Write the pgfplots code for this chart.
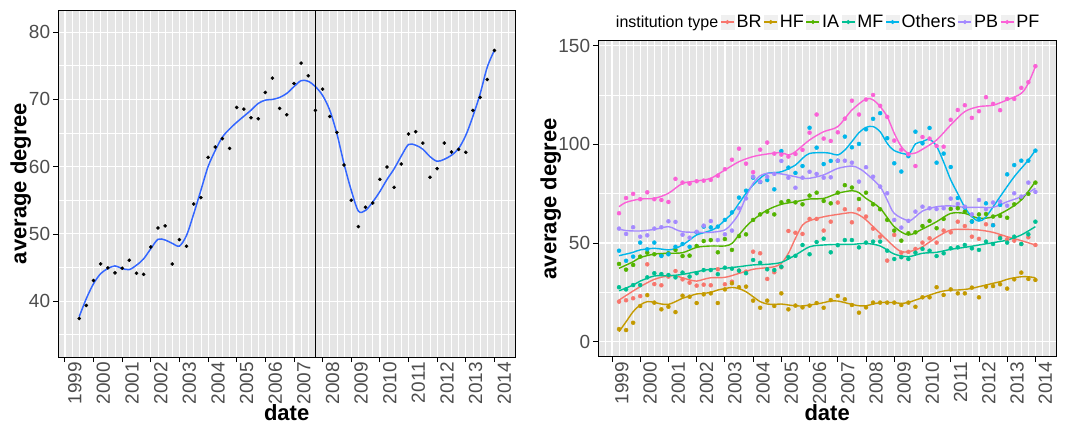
\documentclass[border=0pt]{standalone}
\usepackage{fontspec}
\setmainfont{Liberation Sans}
\usepackage{pgfplots}
\usepackage{pgfplotstable}
\pgfplotsset{compat=1.18}
\definecolor{bgc}{HTML}{E5E5E5}
\definecolor{tickc}{HTML}{4D4D4D}
\definecolor{fitblue}{HTML}{3366FF}
\definecolor{brc}{HTML}{F8766D}
\definecolor{hfc}{HTML}{C49A00}
\definecolor{iac}{HTML}{53B400}
\definecolor{mfc}{HTML}{00C094}
\definecolor{othc}{HTML}{00B6EB}
\definecolor{pbc}{HTML}{A58AFF}
\definecolor{pfc}{HTML}{FB61D7}

\pgfplotstableread{
date val
1999.5 37.43
1999.75 39.36
2000 43.07
2000.25 45.54
2000.5 44.95
2000.75 44.21
2001 44.9
2001.25 46.09
2001.5 44.16
2001.75 44.0
2002 48.07
2002.25 50.89
2002.5 51.19
2002.75 45.54
2003 49.16
2003.25 48.17
2003.5 54.46
2003.75 55.4
2004 61.39
2004.25 62.92
2004.5 64.16
2004.75 62.72
2005 68.81
2005.25 68.56
2005.5 67.28
2005.75 67.13
2006 71.04
2006.25 73.17
2006.5 68.66
2006.75 67.72
2007 72.38
2007.25 75.4
2007.5 73.51
2007.75 68.37
2008 71.53
2008.25 67.48
2008.5 65.1
2008.75 60.25
2009 55.0
2009.25 51.09
2009.5 53.96
2009.75 54.6
2010 58.12
2010.25 59.95
2010.5 56.93
2010.75 60.4
2011 64.85
2011.25 65.2
2011.5 63.51
2011.75 58.42
2012 59.7
2012.25 63.51
2012.5 62.18
2012.75 62.57
2013 62.13
2013.25 68.37
2013.5 70.3
2013.75 72.97
2014 77.28
}\leftpts

\pgfplotstableread{
date val
1999.5 37.7
1999.75 40.4
2000 42.6
2000.25 44.1
2000.5 44.85
2000.75 45.25
2001 44.85
2001.25 44.7
2001.5 45.35
2001.75 46.3
2002 47.8
2002.25 49.2
2002.5 49.1
2002.75 48.6
2003 48.2
2003.25 49.8
2003.5 53.0
2003.75 56.5
2004 60.0
2004.25 62.4
2004.5 64.4
2004.75 65.6
2005 66.6
2005.25 67.5
2005.5 68.4
2005.75 69.4
2006 69.9
2006.25 70.0
2006.5 70.3
2006.75 70.9
2007 71.9
2007.25 72.8
2007.5 72.7
2007.75 71.9
2008 70.6
2008.25 68.4
2008.5 64.9
2008.75 60.4
2009 56.5
2009.25 53.4
2009.5 53.5
2009.75 54.75
2010 56.3
2010.25 58.1
2010.5 59.7
2010.75 61.6
2011 63.3
2011.25 63.2
2011.5 62.6
2011.75 61.5
2012 60.8
2012.25 61.1
2012.5 61.7
2012.75 62.7
2013 64.65
2013.25 67.5
2013.5 70.8
2013.75 74.8
2014 77.3
}\leftfit

\pgfplotstableread{
date BR HF IA MF Others PB PF
1999.25 20.3 6.4 39.4 27.6 46.1 57.3 65.1
1999.5 21.0 5.9 36.5 26.5 41.0 54.6 72.8
1999.75 22.0 9.6 38.9 28.7 43.1 58.0 74.9
2000.0 23.1 18.1 43.1 28.7 50.2 53.2 72.2
2000.25 39.2 23.6 45.1 32.6 46.8 53.9 75.7
2000.5 29.2 19.8 44.3 34.7 50.2 57.3 72.2
2000.75 28.6 16.4 43.9 34.3 43.4 58.0 71.8
2001.0 33.0 17.7 44.8 33.8 44.3 61.0 70.8
2001.25 35.8 15.0 46.5 32.6 48.1 60.7 82.5
2001.5 31.6 23.3 43.4 35.0 49.5 54.2 80.6
2001.75 29.9 22.8 43.6 33.0 48.1 52.7 80.1
2002.0 28.4 19.6 48.5 34.7 55.4 55.7 81.3
2002.25 28.9 24.0 51.0 36.3 58.3 58.8 81.6
2002.5 28.6 24.5 51.5 36.3 57.9 61.1 82.0
2002.75 36.7 19.6 45.3 34.2 58.3 51.5 84.1
2003.0 29.1 26.5 52.0 37.5 61.7 54.4 87.4
2003.25 30.4 29.6 46.5 37.0 65.5 56.3 92.2
2003.5 36.0 27.6 53.5 36.0 73.0 67.6 97.8
2003.75 35.5 27.9 54.4 34.7 76.5 72.6 90.2
2004.0 45.6 20.8 61.7 41.4 83.1 83.6 85.9
2004.25 44.8 17.2 64.5 40.0 80.9 81.1 97.3
2004.5 31.8 20.8 65.9 36.7 81.9 83.6 100.9
2004.75 35.2 18.1 64.5 36.3 77.2 85.0 95.3
2005.0 37.7 24.5 70.6 38.0 96.6 91.6 94.8
2005.25 56.1 16.4 71.3 42.8 88.2 83.1 93.8
2005.5 55.2 18.3 70.6 43.5 85.5 78.0 95.1
2005.75 54.6 17.4 69.6 49.0 89.0 83.1 97.2
2006.0 62.2 18.3 74.0 44.3 108.4 86.1 105.9
2006.25 62.2 19.6 75.5 50.5 98.3 85.0 115.1
2006.5 56.3 17.2 71.3 52.2 90.0 83.1 102.9
2006.75 60.8 21.1 70.1 45.3 91.6 83.3 101.7
2007.0 70.5 23.2 75.5 48.9 91.7 91.7 106.1
2007.25 67.1 21.5 79.3 51.5 103.9 91.7 113.0
2007.5 60.5 18.6 78.1 51.5 98.5 90.7 122.1
2007.75 67.1 14.7 72.3 47.8 100.2 81.1 115.1
2008.0 63.4 17.4 75.5 50.2 107.6 88.4 122.7
2008.25 57.3 19.8 69.6 50.7 112.9 83.6 125.0
2008.5 53.2 19.8 67.1 50.7 115.8 78.6 119.5
2008.75 41.1 19.8 61.7 46.1 103.1 75.2 113.9
2009.0 54.1 19.8 56.3 41.9 90.4 61.7 101.9
2009.25 45.1 18.6 51.2 42.8 86.2 57.8 97.3
2009.5 45.5 19.8 54.9 41.9 94.0 61.2 95.0
2009.75 47.0 17.7 55.4 45.1 106.4 65.9 89.0
2010.0 50.2 22.5 58.6 47.0 100.5 68.4 103.7
2010.25 52.4 22.5 61.2 46.1 108.3 67.6 102.9
2010.5 50.2 27.6 57.5 43.4 90.7 67.2 99.2
2010.75 56.3 23.7 62.2 44.8 95.3 67.6 98.8
2011.0 55.4 26.5 67.3 47.3 88.5 72.5 112.4
2011.25 60.8 24.5 67.6 47.8 72.8 69.8 117.4
2011.5 58.6 24.5 65.9 49.0 67.9 68.4 119.8
2011.75 53.2 27.4 61.0 47.3 60.8 64.5 113.4
2012.0 52.1 22.5 64.5 46.5 62.3 71.8 116.8
2012.25 59.5 27.9 64.7 50.7 70.1 67.1 123.9
2012.5 59.1 28.2 63.4 49.5 59.0 70.5 120.5
2012.75 53.2 29.1 63.7 52.4 69.3 71.0 117.3
2013.0 51.9 26.9 62.8 50.2 84.8 68.9 123.0
2013.25 51.2 31.6 69.6 53.2 89.5 75.2 123.0
2013.5 49.5 35.0 72.7 49.5 91.7 73.5 128.6
2013.75 52.9 31.8 74.9 54.4 91.7 80.6 131.5
2014.0 49.0 31.3 80.6 60.8 96.8 75.9 139.6
}\typedata

\pgfplotsset{
  ggbase/.style={
    scale only axis,
    axis background/.style={fill=bgc},
    axis line style={black, line width=0.8pt},
    tick align=outside,
    tick pos=left,
    major tick length=5pt,
    minor tick length=0pt,
    every tick/.style={black, line width=0.8pt},
    grid=both,
    major grid style={white, line width=1.1pt},
    minor grid style={white, line width=0.7pt},
    xtick={1999,2000,2001,2002,2003,2004,2005,2006,2007,2008,2009,2010,2011,2012,2013,2014},
    xticklabels={1999,2000,2001,2002,2003,2004,2005,2006,2007,2008,2009,2010,2011,2012,2013,2014},
    minor xtick={1998.75,1999,...,2014.5},
    tick label style={font=\fontsize{19}{19}\selectfont},
    xticklabel style={rotate=90, anchor=north east, inner sep=0pt, yshift=-3pt, text=tickc, font=\fontsize{19}{19}\selectfont},
    yticklabel style={anchor=east, inner sep=0pt, xshift=-3pt, text=tickc, font=\fontsize{19}{19}\selectfont},
    /pgf/number format/assume math mode=true,
    label style={font=\bfseries\fontsize{22}{22}\selectfont},
    xlabel={date},
    ylabel={average degree},
  }
}

\begin{document}
\begin{tikzpicture}
\useasboundingbox (0pt,0pt) rectangle (1067pt,429pt);

\begin{axis}[ggbase,
  at={(58.3pt,72pt)}, anchor=south west,
  width=456.7pt, height=347pt,
  xmin=1998.77, xmax=2014.72,
  ymin=31.7, ymax=83.3,
  ytick={40,50,60,70,80},
  minor ytick={35,45,55,65,75},
  xlabel style={at={(axis description cs:0.5,-0.161)}, anchor=center},
  ylabel style={at={(axis description cs:-0.0823,0.5)}, anchor=center},
]
\addplot[only marks, mark=*, mark size=1.6pt, black] table[x=date,y=val]{\leftpts};
\addplot[fitblue, line width=1.5pt, smooth] table[x=date,y=val]{\leftfit};
\addplot[black, line width=0.8pt] coordinates {(2007.74,31.7) (2007.74,83.3)};
\end{axis}

\begin{axis}[ggbase,
  at={(598.3pt,72.3pt)}, anchor=south west,
  width=457.7pt, height=316pt,
  xmin=1998.516, xmax=2014.73,
  ymin=-7.6, ymax=152.5,
  ytick={0,50,100,150},
  minor ytick={25,75,125},
  xlabel style={at={(axis description cs:0.5,-0.178)}, anchor=center},
  ylabel style={at={(axis description cs:-0.1038,0.5)}, anchor=center},
  legend columns=8,
  legend image code/.code={
    \fill[black!6] (0pt,-7pt) rectangle (13pt,7pt);
    \draw[#1, line width=1.3pt] (0pt,0pt) -- (13pt,0pt);
    \fill[#1] (6.5pt,0pt) circle (1.9pt);
  },
  legend style={draw=none, fill=none, at={(0.5,1.059)}, anchor=center,
    font=\fontsize{18}{18}\selectfont,
    /tikz/column sep=1pt,
    nodes={inner xsep=1pt, inner ysep=1pt}},
]
\addplot[only marks, mark=*, mark size=2pt, brc, forget plot] table[x=date,y=BR]{\typedata};
\addplot[only marks, mark=*, mark size=2pt, hfc, forget plot] table[x=date,y=HF]{\typedata};
\addplot[only marks, mark=*, mark size=2pt, iac, forget plot] table[x=date,y=IA]{\typedata};
\addplot[only marks, mark=*, mark size=2pt, mfc, forget plot] table[x=date,y=MF]{\typedata};
\addplot[only marks, mark=*, mark size=2pt, othc, forget plot] table[x=date,y=Others]{\typedata};
\addplot[only marks, mark=*, mark size=2pt, pbc, forget plot] table[x=date,y=PB]{\typedata};
\addplot[only marks, mark=*, mark size=2pt, pfc, forget plot] table[x=date,y=PF]{\typedata};

\addplot[brc, line width=1.4pt, smooth, forget plot] coordinates {(1999.25,21.1)(1999.75,25.7)(2000,27.9)(2000.5,31.6)(2001,33.4)(2001.25,33.3)(2001.5,32.4)(2001.75,31.3)(2002,30.7)(2002.25,31.6)(2002.5,32.4)(2003,32.6)(2003.5,34.6)(2004,36.7)(2004.5,37.5)(2004.75,38)(2005,39.7)(2005.25,44.8)(2005.5,52.4)(2005.75,59.1)(2006,61.3)(2006.5,63.3)(2007,64.5)(2007.5,65.4)(2007.75,64.2)(2008,61.7)(2008.5,54.9)(2009,48.1)(2009.25,45.6)(2009.5,45.6)(2009.75,46.5)(2010,48.1)(2010.5,52.9)(2011,56.6)(2011.5,56.9)(2012,56.6)(2012.5,55.4)(2013,53.2)(2013.5,51.2)(2014,49)};
\addplot[hfc, line width=1.4pt, smooth, forget plot] coordinates {(1999.25,5.1)(1999.5,10.1)(1999.75,15.2)(2000,18.6)(2000.25,20.3)(2000.5,19.9)(2000.75,19.1)(2001,18.9)(2001.25,20.3)(2001.5,22)(2001.75,23.1)(2002,24.2)(2002.25,24.5)(2002.5,25)(2002.75,26.2)(2003,26.9)(2003.25,27.5)(2003.5,26.9)(2003.75,25.3)(2004,22.8)(2004.25,20.3)(2004.5,19.1)(2004.75,18.9)(2005,19.1)(2005.25,18.6)(2005.5,18.2)(2005.75,18.1)(2006,18.6)(2006.25,19.1)(2006.5,19.8)(2006.75,20.6)(2007,20.6)(2007.25,19.8)(2007.5,18.9)(2007.75,18.2)(2008,18.2)(2008.25,19.1)(2008.5,19.8)(2008.75,19.9)(2009,19.8)(2009.25,19.4)(2009.5,19.9)(2009.75,21.1)(2010,22.3)(2010.25,23.6)(2010.5,24.8)(2010.75,25.7)(2011,26.2)(2011.25,26.2)(2011.5,26.5)(2011.75,27)(2012,27.9)(2012.25,28.7)(2012.5,29.6)(2012.75,30.4)(2013,31.6)(2013.25,32.4)(2013.5,32.9)(2013.75,32.9)(2014,32.4)};
\addplot[iac, line width=1.4pt, smooth, forget plot] coordinates {(1999.25,37.2)(1999.75,40.5)(2000,42.6)(2000.5,44.4)(2001,44.8)(2001.5,45.1)(2002,47.8)(2002.5,48.5)(2003,48.5)(2003.25,49.8)(2003.5,54.1)(2003.75,58.3)(2004,61.7)(2004.5,66.7)(2005,69.6)(2005.5,70.9)(2006,72.3)(2006.5,72.6)(2007,75.2)(2007.5,76.5)(2007.75,75.5)(2008,72.6)(2008.5,67.6)(2009,58.3)(2009.5,54.1)(2010,57.1)(2010.5,60.8)(2011,65)(2011.5,65)(2012,62.5)(2012.5,63.3)(2013,66.7)(2013.5,71.8)(2014,81.1)};
\addplot[mfc, line width=1.4pt, smooth, forget plot] coordinates {(1999.25,25.8)(1999.75,28.7)(2000,30.7)(2000.5,33.3)(2001,33.4)(2001.5,34.1)(2002,35.5)(2002.5,36.7)(2003,37.2)(2003.5,38)(2004,38.9)(2004.5,39.2)(2005,40.2)(2005.5,43.9)(2006,48.1)(2006.5,49)(2007,49.3)(2007.5,49.3)(2008,49.8)(2008.5,48.5)(2009,44.4)(2009.5,43.1)(2010,44.8)(2010.5,45.3)(2011,46.8)(2011.5,47.8)(2012,49)(2012.5,50.2)(2013,51.5)(2013.5,54.1)(2014,58.3)};
\addplot[othc, line width=1.4pt, smooth, forget plot] coordinates {(1999.25,43.6)(1999.5,44.4)(1999.75,45.3)(2000,46.5)(2000.5,47.3)(2001,46.5)(2001.25,47.3)(2001.5,49)(2001.75,51.5)(2002,54.1)(2002.5,56.3)(2002.75,58.3)(2003,61.7)(2003.25,65)(2003.5,70.1)(2003.75,75.2)(2004,79.4)(2004.25,82.8)(2004.5,85.3)(2005,86.1)(2005.5,89.5)(2005.75,92.9)(2006,95.4)(2006.5,95.8)(2006.75,95.4)(2007,94.6)(2007.25,97.1)(2007.5,101.4)(2007.75,105.9)(2008,108.6)(2008.25,109)(2008.5,106.4)(2008.75,100.5)(2009,96.8)(2009.5,95.1)(2009.75,100.2)(2010,101.4)(2010.25,102.5)(2010.5,99)(2010.75,91)(2011,82)(2011.25,75)(2011.5,68)(2011.75,63.3)(2012,61.1)(2012.25,63.3)(2012.75,73.5)(2013.25,83.6)(2013.75,92)(2014,97.1)};
\addplot[pbc, line width=1.4pt, smooth, forget plot] coordinates {(1999.25,57.1)(1999.5,56.3)(2000,56.1)(2000.5,56.9)(2001,58.3)(2001.25,56.9)(2001.5,55.7)(2002,55.4)(2002.5,55.4)(2003,56.6)(2003.25,60)(2003.5,65)(2003.75,73.5)(2004,80.2)(2004.25,84.1)(2004.5,85.3)(2004.75,85.3)(2005,85)(2005.5,83.6)(2005.75,82.8)(2006,82.8)(2006.5,84.5)(2007,87.8)(2007.5,89)(2007.75,87.8)(2008,85.3)(2008.5,78.5)(2008.75,71.8)(2009,65)(2009.5,61.3)(2009.75,63.3)(2010,66.2)(2010.5,68.4)(2011,68.8)(2011.5,68.1)(2012,68.1)(2012.5,68.1)(2013,70.9)(2013.5,73.5)(2014,77.7)};
\addplot[pfc, line width=1.4pt, smooth, forget plot] coordinates {(1999.25,68.4)(1999.5,70.6)(2000,72.3)(2000.5,72.6)(2001,75.2)(2001.5,80.2)(2002,81.4)(2002.5,82.8)(2003,87)(2003.5,91.2)(2004,93.8)(2004.5,95.1)(2005,95.8)(2005.25,94.6)(2005.5,96.3)(2006,102.2)(2006.5,106.4)(2007,109)(2007.5,117.4)(2008,123)(2008.25,122.5)(2008.5,119.1)(2008.75,114)(2009,105.6)(2009.25,98.8)(2009.5,95.4)(2009.75,95.6)(2010,97.5)(2010.5,102.2)(2011,109.8)(2011.5,116.6)(2012,119.1)(2012.5,119.8)(2013,122.5)(2013.5,125.8)(2013.75,131)(2014,139.4)};

\addlegendimage{empty legend}
\addlegendentry{\fontsize{16}{16}\selectfont institution type}
\addlegendimage{brc}\addlegendentry{BR}
\addlegendimage{hfc}\addlegendentry{HF}
\addlegendimage{iac}\addlegendentry{IA}
\addlegendimage{mfc}\addlegendentry{MF}
\addlegendimage{othc}\addlegendentry{Others}
\addlegendimage{pbc}\addlegendentry{PB}
\addlegendimage{pfc}\addlegendentry{PF}
\end{axis}
\end{tikzpicture}
\end{document}
